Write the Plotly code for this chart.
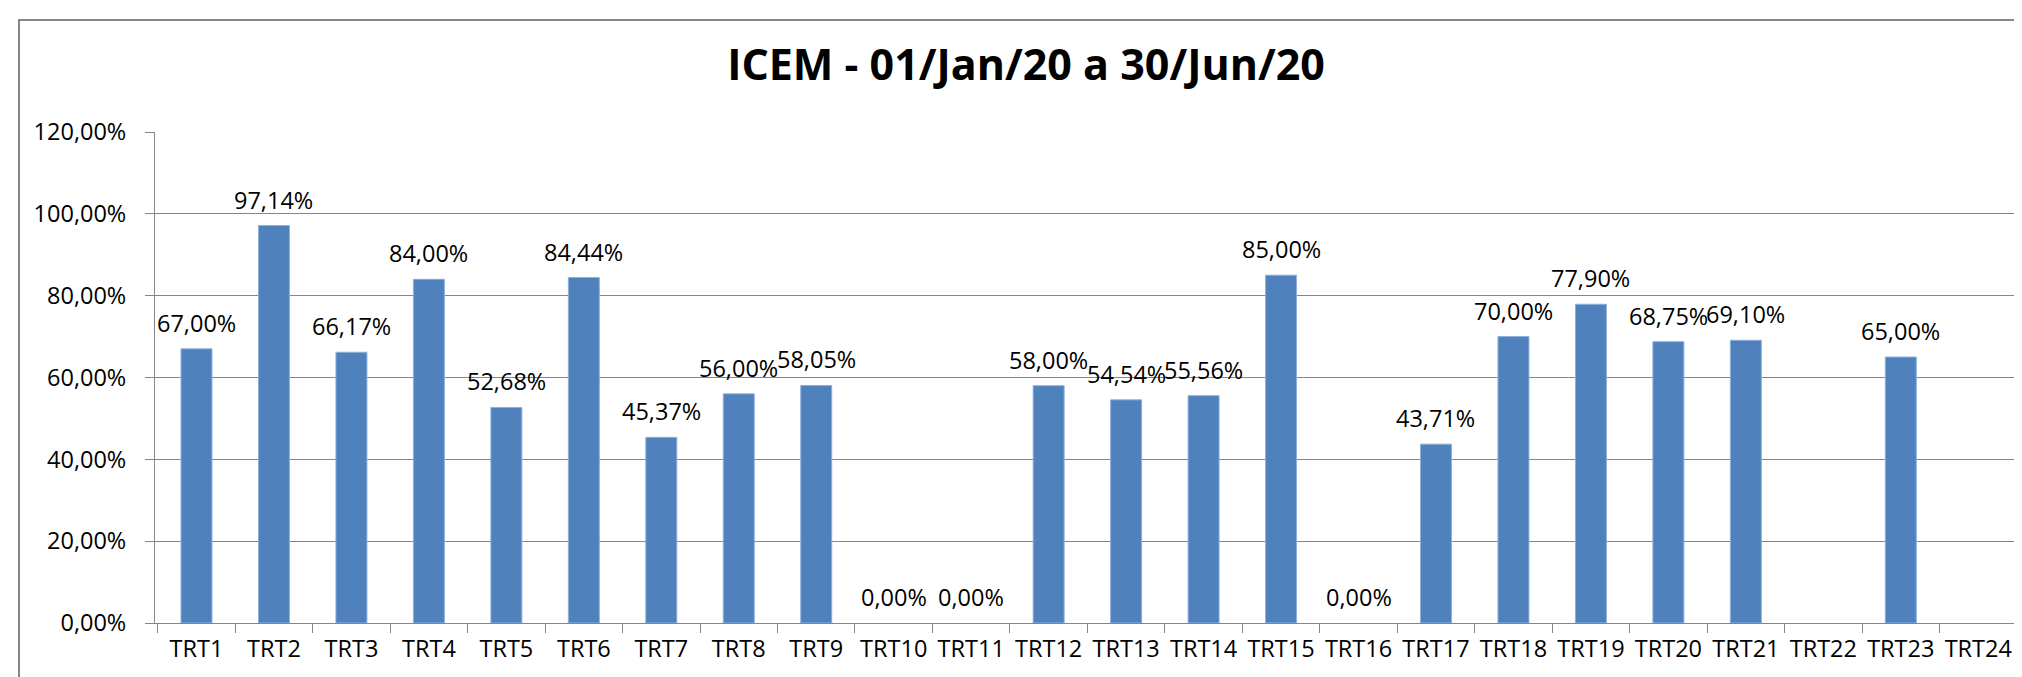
import plotly.graph_objects as go

categories = ["TRT1", "TRT2", "TRT3", "TRT4", "TRT5", "TRT6", "TRT7", "TRT8", "TRT9", "TRT10",
              "TRT11", "TRT12", "TRT13", "TRT14", "TRT15", "TRT16", "TRT17", "TRT18", "TRT19",
              "TRT20", "TRT21", "TRT22", "TRT23", "TRT24"]
values = [67.00, 97.14, 66.17, 84.00, 52.68, 84.44, 45.37, 56.00, 58.05, 0.00,
          0.00, 58.00, 54.54, 55.56, 85.00, 0.00, 43.71, 70.00, 77.90,
          68.75, 69.10, None, 65.00, None]
y_tick_values = [0, 20, 40, 60, 80, 100, 120]
y_tick_labels = ["0,00%", "20,00%", "40,00%", "60,00%", "80,00%", "100,00%", "120,00%"]
title_text = "ICEM - 01/Jan/20 a 30/Jun/20"

W, H = 2022, 677
L, R, T, B = 147, 13, 124, 62
pw, ph = W - L - R, H - T - B

FONT = "Open Sans, Liberation Sans, sans-serif"
FS = 23.5

def fmt(v):
    return f"{v:.2f}".replace(".", ",") + "%"

edge_widths = [1 if (v is not None and v > 0) else 0 for v in values]

fig = go.Figure()
fig.add_trace(go.Bar(
    x=categories, y=values,
    marker=dict(color="#4F81BD", line=dict(color="#8DB0DC", width=edge_widths)),
    hoverinfo="x+y",
))

for c, v in zip(categories, values):
    if v is None:
        continue
    fig.add_annotation(x=c, y=v, xref="x", yref="y", text=fmt(v), showarrow=False,
                       yanchor="middle", yshift=26,
                       font=dict(family=FONT, size=FS, color="#000000"))

# chart outer border (Excel chart area)
bx0 = (11 - L) / pw
by1 = (H - B - 12) / ph
fig.add_shape(type="rect", xref="paper", yref="paper", x0=bx0, x1=1.2, y0=-0.5, y1=by1,
              line=dict(color="#868686", width=2), fillcolor="rgba(0,0,0,0)", layer="below")

fig.update_layout(
    width=W, height=H,
    margin=dict(l=L, r=R, t=T, b=B, pad=0),
    paper_bgcolor="white", plot_bgcolor="white",
    bargap=0.6,
    showlegend=False,
    title=dict(text=title_text, x=1018 / W, xanchor="center", y=1 - 57 / H, yanchor="middle",
               xref="container", yref="container",
               font=dict(family="Open Sans, sans-serif", size=43, color="#000000", weight="bold")),
    font=dict(family=FONT, size=FS, color="#000000"),
)
fig.update_xaxes(
    type="category", tickson="boundaries", ticks="outside", ticklen=9, tickcolor="#868686",
    showline=True, linecolor="#868686", linewidth=1, showgrid=False,
    tickfont=dict(family=FONT, size=FS, color="#000000"), ticklabelstandoff=5,
)
fig.update_yaxes(
    range=[0, 120], tickvals=y_tick_values, ticktext=y_tick_labels,
    ticks="outside", ticklen=9, tickcolor="#868686",
    showline=True, linecolor="#868686", linewidth=1,
    showgrid=True, gridcolor="#868686", gridwidth=1, zeroline=False,
    tickfont=dict(family=FONT, size=FS, color="#000000"), ticklabelstandoff=14,
)

fig.write_html("out.html")
